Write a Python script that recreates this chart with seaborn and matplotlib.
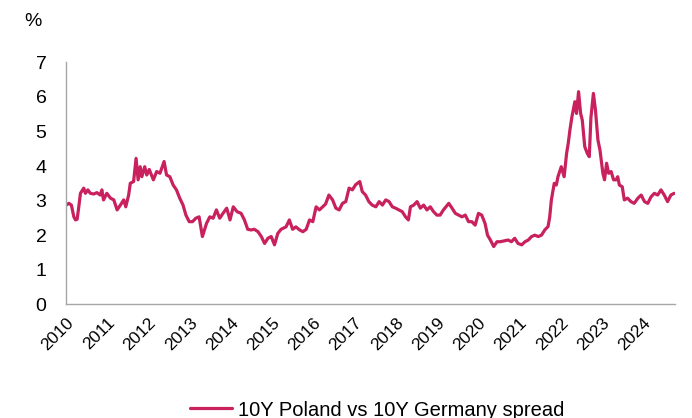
import pandas as pd
import matplotlib.pyplot as plt
import seaborn as sns

# 10Y Poland minus 10Y Germany yield spread (decimal years, %)
years = [
    2010.00, 2010.07, 2010.13, 2010.19, 2010.23, 2010.27, 2010.31, 2010.35, 2010.43, 2010.47,
    2010.53, 2010.59, 2010.67, 2010.75, 2010.83, 2010.87, 2010.91, 2010.99, 2011.08, 2011.16,
    2011.24, 2011.32, 2011.40, 2011.45, 2011.52, 2011.56, 2011.64, 2011.70, 2011.75, 2011.80,
    2011.84, 2011.91, 2011.96, 2012.02, 2012.12, 2012.20, 2012.28, 2012.38, 2012.44, 2012.52,
    2012.60, 2012.68, 2012.76, 2012.84, 2012.91, 2012.99, 2013.07, 2013.15, 2013.23, 2013.31,
    2013.41, 2013.49, 2013.57, 2013.65, 2013.73, 2013.81, 2013.90, 2013.98, 2014.06, 2014.15,
    2014.25, 2014.33, 2014.41, 2014.49, 2014.57, 2014.66, 2014.74, 2014.82, 2014.90, 2014.98,
    2015.06, 2015.14, 2015.22, 2015.34, 2015.42, 2015.50, 2015.58, 2015.67, 2015.75, 2015.83,
    2015.91, 2015.99, 2016.07, 2016.15, 2016.23, 2016.30, 2016.38, 2016.47, 2016.55, 2016.63,
    2016.71, 2016.79, 2016.87, 2016.95, 2017.03, 2017.13, 2017.19, 2017.27, 2017.35, 2017.43,
    2017.52, 2017.60, 2017.68, 2017.76, 2017.84, 2017.92, 2018.00, 2018.08, 2018.16, 2018.24,
    2018.31, 2018.36, 2018.44, 2018.52, 2018.60, 2018.68, 2018.76, 2018.84, 2018.92, 2019.00,
    2019.08, 2019.16, 2019.29, 2019.37, 2019.45, 2019.53, 2019.61, 2019.69, 2019.77, 2019.85,
    2019.93, 2020.01, 2020.09, 2020.17, 2020.23, 2020.30, 2020.38, 2020.46, 2020.54, 2020.65,
    2020.73, 2020.81, 2020.89, 2020.97, 2021.06, 2021.14, 2021.22, 2021.30, 2021.38, 2021.46,
    2021.54, 2021.62, 2021.70, 2021.74, 2021.78, 2021.85, 2021.90, 2021.94, 2022.02, 2022.09,
    2022.15, 2022.19, 2022.23, 2022.28, 2022.35, 2022.39, 2022.44, 2022.49, 2022.53, 2022.59,
    2022.65, 2022.70, 2022.74, 2022.80, 2022.85, 2022.91, 2022.96, 2023.03, 2023.07, 2023.12,
    2023.17, 2023.23, 2023.29, 2023.35, 2023.39, 2023.43, 2023.50, 2023.55, 2023.63, 2023.71,
    2023.79, 2023.88, 2023.96, 2024.04, 2024.12, 2024.20, 2024.28, 2024.36, 2024.44, 2024.52,
    2024.60, 2024.68, 2024.76,
]
spread = [
    2.87, 2.92, 2.87, 2.53, 2.44, 2.46, 2.82, 3.21, 3.36, 3.21,
    3.31, 3.21, 3.19, 3.23, 3.16, 3.31, 3.02, 3.21, 3.07, 3.02,
    2.73, 2.87, 3.02, 2.82, 3.16, 3.50, 3.55, 4.22, 3.60, 3.98,
    3.69, 3.98, 3.74, 3.90, 3.60, 3.84, 3.79, 4.13, 3.74, 3.69,
    3.45, 3.31, 3.07, 2.87, 2.58, 2.39, 2.39, 2.49, 2.53, 1.96,
    2.34, 2.53, 2.49, 2.73, 2.49, 2.63, 2.78, 2.44, 2.82, 2.68,
    2.63, 2.44, 2.17, 2.15, 2.17, 2.10, 1.96, 1.76, 1.91, 1.96,
    1.72, 2.05, 2.17, 2.24, 2.44, 2.17, 2.24, 2.15, 2.10, 2.17,
    2.44, 2.39, 2.82, 2.73, 2.82, 2.90, 3.16, 3.02, 2.78, 2.73,
    2.92, 2.97, 3.36, 3.31, 3.46, 3.55, 3.26, 3.16, 2.97, 2.87,
    2.82, 2.97, 2.87, 3.02, 2.97, 2.82, 2.78, 2.73, 2.68, 2.53,
    2.44, 2.82, 2.87, 2.97, 2.78, 2.87, 2.73, 2.82, 2.68, 2.58,
    2.58, 2.73, 2.92, 2.78, 2.63, 2.58, 2.53, 2.58, 2.39, 2.39,
    2.29, 2.63, 2.58, 2.34, 2.00, 1.86, 1.67, 1.81, 1.81, 1.84,
    1.86, 1.81, 1.91, 1.76, 1.72, 1.81, 1.86, 1.96, 2.00, 1.96,
    2.00, 2.15, 2.25, 2.53, 3.02, 3.50, 3.45, 3.69, 3.98, 3.69,
    4.37, 4.66, 5.04, 5.43, 5.86, 5.52, 6.15, 5.52, 5.33, 4.56,
    4.37, 4.27, 5.40, 6.10, 5.62, 4.75, 4.46, 3.79, 3.60, 4.08,
    3.79, 3.84, 3.60, 3.60, 3.69, 3.45, 3.40, 3.02, 3.07, 2.97,
    2.92, 3.07, 3.16, 2.97, 2.92, 3.11, 3.21, 3.16, 3.31, 3.16,
    2.97, 3.16, 3.21,
]

df = pd.DataFrame({'year': years, 'spread': spread})

sns.set_style('white')
plt.rcParams['font.family'] = ['Liberation Sans', 'DejaVu Sans']
plt.rcParams['text.color'] = 'black'

line_color = '#C8215D'
axis_grey = '#A6A6A6'

fig = plt.figure(figsize=(6.92, 4.18), dpi=100)
ax = fig.add_axes([0.0954, 0.272, 0.88, 0.579])

sns.lineplot(data=df, x='year', y='spread', color=line_color, linewidth=2.3,
             label='10Y Poland vs 10Y Germany spread', legend=False, ax=ax)

ax.set_xlim(2010, 2024.78)
ax.set_ylim(0, 7)
ax.set_xticks(range(2010, 2025))
ax.set_xticklabels([str(y) for y in range(2010, 2025)], rotation=45,
                   ha='right', rotation_mode='anchor', fontsize=12.5)
ax.set_yticks(range(0, 8))
ax.tick_params(axis='y', labelsize=14, length=5, width=1, color=axis_grey,
               labelcolor='black', pad=9)
ax.tick_params(axis='x', length=5, width=1, color=axis_grey,
               labelcolor='black', pad=3)
ax.set_xlabel('')
ax.set_ylabel('')

for side in ['top', 'right']:
    ax.spines[side].set_visible(False)
for side in ['left', 'bottom']:
    ax.spines[side].set_color(axis_grey)
    ax.spines[side].set_linewidth(1)

fig.text(33 / 692, 1 - 21 / 418, '%', ha='center', va='center', fontsize=14)

handles, labels = ax.get_legend_handles_labels()
fig.legend(handles, labels, loc='center', bbox_to_anchor=(377 / 692, 1 - 410 / 418),
           frameon=False, fontsize=14.5, handlelength=2.1, handletextpad=0.3,
           labelcolor='black')

fig.savefig('out.png', dpi=100)
